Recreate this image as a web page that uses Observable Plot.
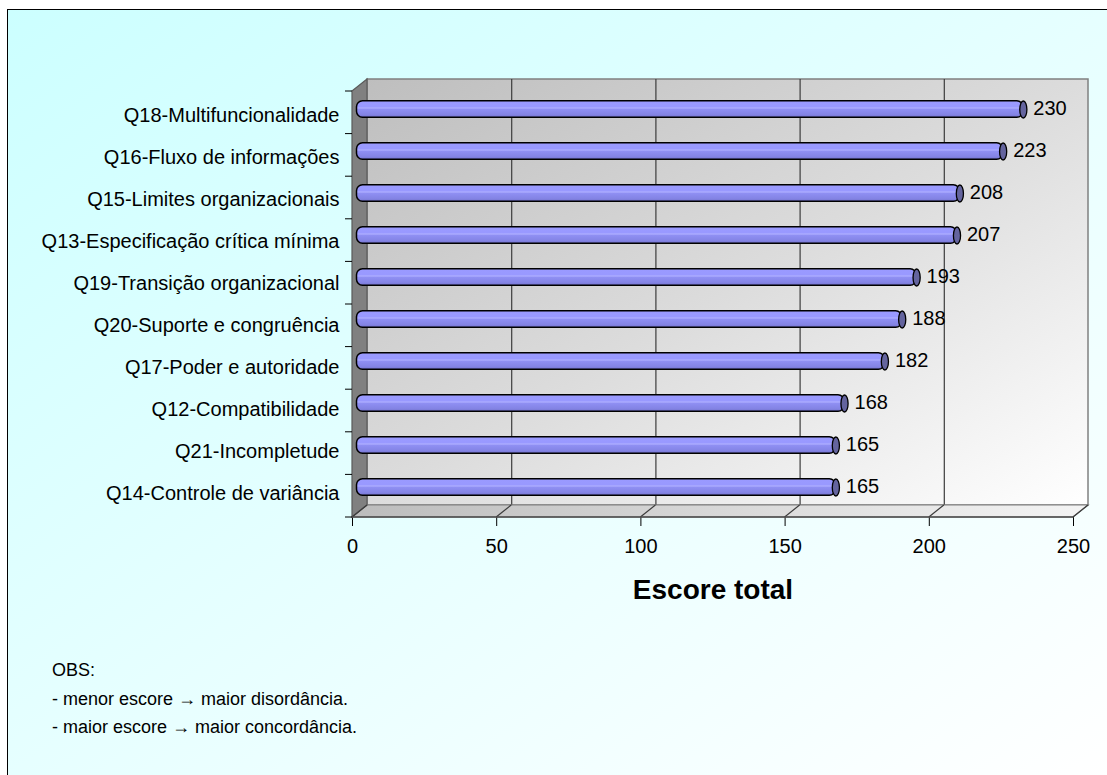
<!DOCTYPE html>
<html lang="pt">
<head>
<meta charset="utf-8">
<script src="https://cdn.jsdelivr.net/npm/d3@7"></script>
<script src="https://cdn.jsdelivr.net/npm/@observablehq/plot@0.6"></script>
<style>
  html, body { margin: 0; padding: 0; width: 1107px; height: 775px; overflow: hidden; background: #fff; }
  body { font-family: "Liberation Sans", Arial, sans-serif; color: #000; }
  #panel {
    position: absolute; left: 7px; top: 9px; width: 1101px; height: 767px;
    border-left: 1px solid #000; border-top: 1px solid #000;
    background: linear-gradient(to bottom right, #ccffff 0%, #e6ffff 50%, #ffffff 100%);
  }
  #chart { position: absolute; left: 0; top: 0; }
  #notes { position: absolute; left: 52px; top: 656px; font-size: 18px; line-height: 28.5px; white-space: nowrap; }
</style>
</head>
<body>
<div id="panel"></div>
<div id="chart"></div>
<div id="notes">OBS:<br>- menor escore → maior disordância.<br>- maior escore → maior concordância.</div>
<script>
// Questions, top to bottom
const categories = [
  "Q18-Multifuncionalidade",
  "Q16-Fluxo de informações",
  "Q15-Limites organizacionais",
  "Q13-Especificação crítica mínima",
  "Q19-Transição organizacional",
  "Q20-Suporte e congruência",
  "Q17-Poder e autoridade",
  "Q12-Compatibilidade",
  "Q21-Incompletude",
  "Q14-Controle de variância"
];
// Total score per question
const scores = [230, 223, 208, 207, 193, 188, 182, 168, 165, 165];
// Value axis ticks
const xTicks = [0, 50, 100, 150, 200, 250];
const axisTitle = "Escore total";

const rows = categories.map((name, i) => ({name, score: scores[i]}));

// pseudo-3D depth: back wall offset and mid-depth offset for the tubes
const DEPTH = {dx: 15, dy: -12};
const MID = {dx: DEPTH.dx / 2, dy: DEPTH.dy / 2};

// ellipse used for the cut end of each tube
const capSymbol = {
  draw(context, size) {
    const ry = Math.sqrt(size / Math.PI), rx = ry * 0.42, k = 0.5523;
    context.moveTo(0, -ry);
    context.bezierCurveTo(k * rx, -ry, rx, -k * ry, rx, 0);
    context.bezierCurveTo(rx, k * ry, k * rx, ry, 0, ry);
    context.bezierCurveTo(-k * rx, ry, -rx, k * ry, -rx, 0);
    context.bezierCurveTo(-rx, -k * ry, -k * rx, -ry, 0, -ry);
    context.closePath();
  }
};

const plot = Plot.plot({
  width: 1107,
  height: 775,
  marginLeft: 352,
  marginRight: 34,
  marginTop: 91,
  marginBottom: 258,
  style: {background: "transparent", fontFamily: "'Liberation Sans', Arial, sans-serif", fontSize: "20px", color: "#000", overflow: "visible"},
  x: {domain: [xTicks[0], xTicks[xTicks.length - 1]], ticks: xTicks, tickSize: 9, tickPadding: 12, label: null},
  y: {domain: categories, padding: 0, tickSize: 0, tickPadding: 13, label: null},
  marks: [
    // back wall
    Plot.rect([{x1: xTicks[0], x2: xTicks[xTicks.length - 1]}], {
      x1: "x1", x2: "x2", ...DEPTH,
      fill: "url(#wallFill)", stroke: "#808080", strokeWidth: 1.5
    }),
    // gridlines on the back wall
    Plot.ruleX(xTicks.slice(1, -1), {...DEPTH, stroke: "#3c3c3c", strokeWidth: 1.2}),
    // tubes
    Plot.barX(rows, {
      x: "score", y: "name", ...MID,
      insetTop: 12.8, insetBottom: 12.8, insetLeft: -3, rx: 6,
      fill: "url(#tubeFill)", stroke: "#000", strokeWidth: 1.5
    }),
    Plot.dot(rows, {
      x: "score", y: "name", ...MID, r: 8.5, symbol: capSymbol,
      fill: "#64649e", stroke: "#000", strokeWidth: 1.3
    }),
    // value labels
    Plot.text(rows, {
      x: "score", y: "name", text: d => String(d.score),
      dx: MID.dx + 10, dy: MID.dy - 1, textAnchor: "start", fontSize: 20, fill: "#000"
    }),
    // axis title
    Plot.text([axisTitle], {
      text: d => d, frameAnchor: "bottom", dy: 81,
      fontSize: 28, fontWeight: "bold", fill: "#000"
    })
  ]
});

// gradients for wall, floor and tubes
const root = d3.select(plot);
const defs = root.insert("defs", ":first-child");
function gradient(id, x2, y2, stops) {
  const g = defs.append("linearGradient").attr("id", id)
    .attr("x1", 0).attr("y1", 0).attr("x2", x2).attr("y2", y2);
  for (const [o, c] of stops) g.append("stop").attr("offset", o).attr("stop-color", c);
}
gradient("wallFill", 1, 1, [[0, "#bebebe"], [0.5, "#dcdcdc"], [1, "#ffffff"]]);
gradient("floorFill", 1, 0, [[0, "#bcbcbc"], [1, "#f4f4f4"]]);
gradient("tubeFill", 0, 1, [[0, "#9a9aff"], [0.36, "#9999ff"], [0.44, "#aeaeff"], [0.52, "#8f8ff3"], [0.85, "#8383e4"], [1, "#7272cc"]]);

// floor, side wall, floor ticks and category ticks, placed under the tubes
const xs = plot.scale("x"), ys = plot.scale("y");
const X0 = xs.apply(xTicks[0]), X1 = xs.apply(xTicks[xTicks.length - 1]);
const [T, B] = ys.range;
const step = (B - T) / categories.length;
let anchor = root.select('g[aria-label="bar"]').node() || root.select('g[fill="url(#tubeFill)"]').node();
const shell = d3.select(plot.insertBefore(document.createElementNS("http://www.w3.org/2000/svg", "g"), anchor));
const pts = a => a.map(p => p.join(",")).join(" ");
shell.append("polygon")
  .attr("points", pts([[X0, B], [X0 + DEPTH.dx, B + DEPTH.dy], [X1 + DEPTH.dx, B + DEPTH.dy], [X1, B]]))
  .attr("fill", "url(#floorFill)").attr("stroke", "#808080").attr("stroke-width", 1.2);
shell.append("polygon")
  .attr("points", pts([[X0, T], [X0 + DEPTH.dx, T + DEPTH.dy], [X0 + DEPTH.dx, B + DEPTH.dy], [X0, B]]))
  .attr("fill", "#808080").attr("stroke", "#5a5a5a").attr("stroke-width", 1.2);
for (const t of xTicks) {
  const px = xs.apply(t);
  shell.append("line").attr("x1", px).attr("y1", B).attr("x2", px + DEPTH.dx).attr("y2", B + DEPTH.dy)
    .attr("stroke", "#3c3c3c").attr("stroke-width", 1.2);
}
shell.append("line").attr("x1", X0).attr("y1", B).attr("x2", X1).attr("y2", B)
  .attr("stroke", "#4a4a4a").attr("stroke-width", 1.5);
for (let i = 0; i <= categories.length; i++) {
  const py = T + i * step;
  shell.append("line").attr("x1", X0 - 7).attr("y1", py).attr("x2", X0).attr("y2", py)
    .attr("stroke", "#000").attr("stroke-width", 1);
}

document.getElementById("chart").appendChild(plot);
</script>
</body>
</html>
